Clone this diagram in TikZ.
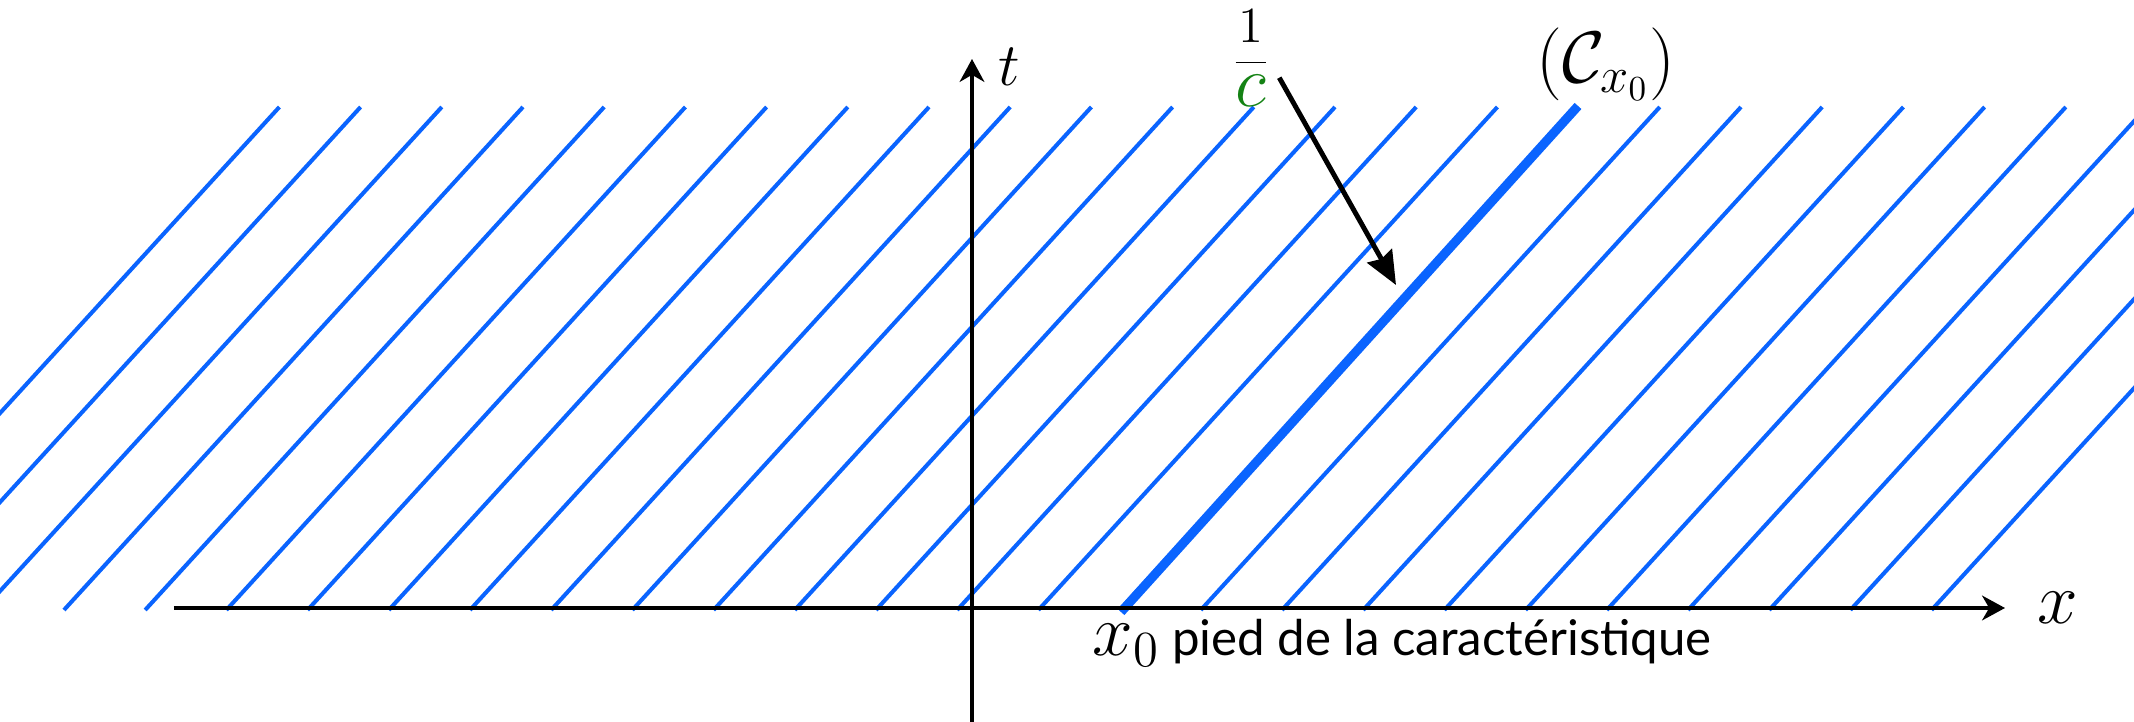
\documentclass[tikz,border=0pt]{standalone}
\usepackage{fontspec}
\setsansfont{Lato}
\usetikzlibrary{arrows.meta}
\definecolor{charblue}{RGB}{10, 100, 255}
\definecolor{slopegreen}{RGB}{20, 130, 20}

\begin{document}
\begin{tikzpicture}[
    axe/.style={-{Stealth[length=6.5pt, width=7pt, inset=2pt]}, line width=1.4pt, color=black},
    charac/.style={color=charblue, line width=1.15pt},
    chosen/.style={color=charblue, line width=2.6pt},
    pointer/.style={-{Stealth[length=9.5pt, width=8pt, inset=1pt]}, line width=1.4pt, color=black},
    lbl/.style={inner sep=0pt, font=\fontsize{21}{24}\selectfont},
  ]
    \useasboundingbox (-9.72,-1.14) rectangle (11.62,6.08);
    \clip (-9.72,-1.14) rectangle (11.62,6.08);

    % characteristic lines
    \foreach \k in {-3,...,23}
      \draw[charac] ({-9.08+0.812*\k}, -0.02) -- ++(4.59, 5.03);
    \draw[chosen] (1.49,-0.04) -- (6.06,5.02);

    % axes
    \coordinate (xbeg) at (-7.98,0);
    \coordinate (xend) at (10.33,0);
    \coordinate (tbeg) at (0,-1.2);
    \coordinate (tend) at (0,5.49);
    \draw[axe] (xbeg) -- (xend);
    \draw[axe] (tbeg) -- (tend);
    \node[lbl] (xlab) at (10.86,0) {$x$};
    \node[lbl, font=\fontsize{18}{21}\selectfont] (tlab) at (0.37,5.41) {$t$};

    % labels
    \node[lbl, inner sep=0.08cm, anchor=base] (slope) at (2.79,5.27)
      {$\frac{\raisebox{0.1cm}{$\scriptstyle 1$}}{\textstyle\textcolor{slopegreen}{c}}$};
    \node[lbl, font=\fontsize{19.5}{22}\selectfont] (cname) at (6.34,5.44) {$(\mathcal{C}_{x_0})$};
    \node[lbl, anchor=base west] (foot) at (1.20,-0.48)
      {$x_0$\,{\sffamily\fontsize{14}{17}\selectfont pied de la caractéristique}};

    \coordinate (tip) at (4.24,3.23);
    \draw[pointer] (slope.-35) -- (tip);

  \end{tikzpicture}
\end{document}
